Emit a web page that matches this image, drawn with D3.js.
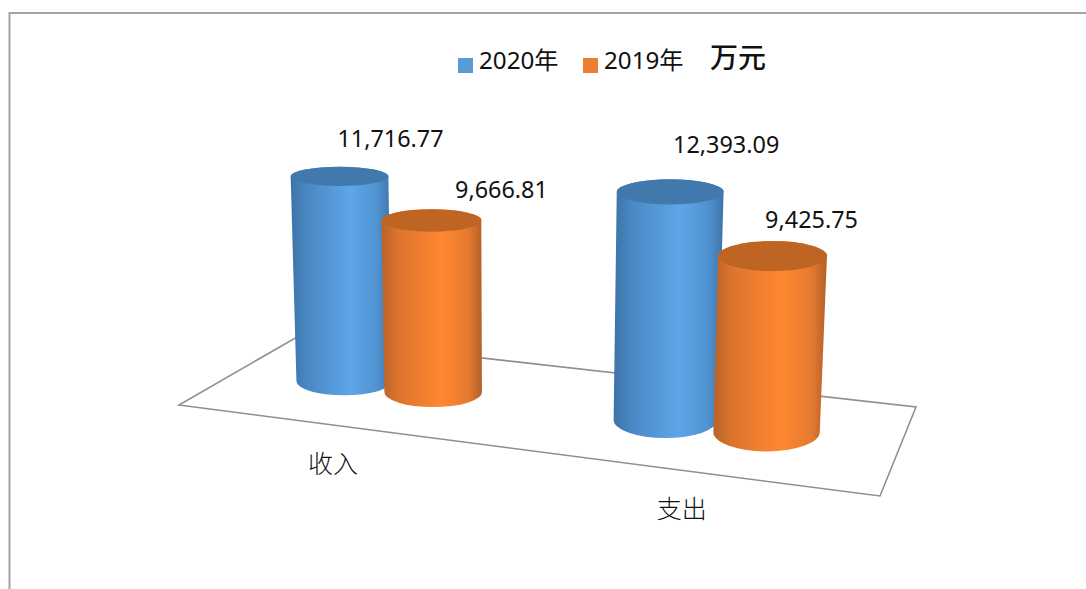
<!DOCTYPE html>
<html>
<head>
<meta charset="utf-8">
<script src="https://cdn.jsdelivr.net/npm/d3@7"></script>
<style>
  html, body { margin: 0; padding: 0; background: #fff; overflow: hidden; }
  text { font-family: "Noto Sans", "Noto Sans CJK SC", sans-serif; fill: #111; }
</style>
</head>
<body>
<div id="chart"></div>
<script>
var categories = ['收入', '支出'];
var seriesNames = ['2020年', '2019年'];
var values2020 = [11716.77, 12393.09];
var values2019 = [9666.81, 9425.75];
var unitLabel = '万元';

var width = 1086, height = 589;

var svg = d3.select('#chart').append('svg')
    .attr('width', width)
    .attr('height', height)
    .style('display', 'block');

// frame, only top and left show in the picture
svg.append('path')
    .attr('d', 'M9.5,589V13H1086')
    .attr('fill', 'none')
    .attr('stroke', '#a3a3a3')
    .attr('stroke-width', 2);

// floor corners on screen: front left, front right, back right, back left
var q = [[179, 405], [880, 496], [916, 407], [297, 337]];

// unit square -> floor quad
var dx1 = q[1][0] - q[2][0], dx2 = q[3][0] - q[2][0], sx = q[0][0] - q[1][0] + q[2][0] - q[3][0];
var dy1 = q[1][1] - q[2][1], dy2 = q[3][1] - q[2][1], sy = q[0][1] - q[1][1] + q[2][1] - q[3][1];
var den = dx1 * dy2 - dx2 * dy1;
var hg = (sx * dy2 - dx2 * sy) / den, hh = (dx1 * sy - sx * dy1) / den;
var ha = q[1][0] - q[0][0] + hg * q[1][0], hb = q[3][0] - q[0][0] + hh * q[3][0];
var hd = q[1][1] - q[0][1] + hg * q[1][1], he = q[3][1] - q[0][1] + hh * q[3][1];

function floorPoint(u, v) {
    var w = hg * u + hh * v + 1;
    return [(ha * u + hb * v + q[0][0]) / w, (hd * u + he * v + q[0][1]) / w];
}

var x0 = d3.scaleBand().domain(categories).range([-0.005, 0.995]).paddingInner(0.42).paddingOuter(0.21);
var x1 = d3.scaleBand().domain(seriesNames).range([0, x0.bandwidth()]);
var y = d3.scaleLinear().domain([0, 14000]).range([0, 246]);

var horizonY = -51, refY = 385, baseRadius = 48;
var vanishX = 510, vanishY = 8000;

function sizeAt(py) { return (py - horizonY) / (refY - horizonY); }
function flatAt(py, f) { return 0.2 + (py - 179) * 0.0005 + (f - 1) * 0.35; }

var defs = svg.append('defs');
var sideColors = [
    ['#3c73a6', '#4a88c4', '#5ea6e8', '#4f92d0', '#3d74a8'],
    ['#b9622a', '#dc742e', '#ff8731', '#e67a2f', '#b5602a']
];
var capColors = ['#4279ad', '#bf6524'];
sideColors.forEach(function (cols, i) {
    var g = defs.append('linearGradient').attr('id', 'side' + i);
    [0, 0.16, 0.6, 0.86, 1].forEach(function (o, k) {
        g.append('stop').attr('offset', o).attr('stop-color', cols[k]);
    });
});

svg.append('path')
    .attr('d', d3.line()(q) + 'Z')
    .attr('fill', '#fff')
    .attr('stroke', '#8f8f8f')
    .attr('stroke-width', 1.6);

var allValues = [values2020, values2019];
var labelNudge = [[[51, -38], [70, -31]], [[56, -47], [39, -36]]];

categories.forEach(function (cat, c) {
    seriesNames.forEach(function (name, s) {
        var value = allValues[s][c];
        var base = floorPoint(x0(cat) + x1(name) + x1.bandwidth() / 2, 0.5);
        var f = sizeAt(base[1]);
        var h = y(value) * Math.pow(f, 0.6);
        var t = h / (vanishY - base[1]);
        var top = [base[0] + (base[0] - vanishX) * t, base[1] - h];
        var rb = baseRadius * f, rt = rb * (1 + t);
        var ryb = rb * flatAt(base[1], f), ryt = rt * flatAt(top[1], f);

        var side = 'M' + (top[0] - rt) + ',' + top[1]
            + 'L' + (base[0] - rb) + ',' + base[1]
            + 'A' + rb + ',' + ryb + ' 0 0 0 ' + (base[0] + rb) + ',' + base[1]
            + 'L' + (top[0] + rt) + ',' + top[1]
            + 'A' + rt + ',' + ryt + ' 0 0 0 ' + (top[0] - rt) + ',' + top[1] + 'Z';

        svg.append('path')
            .attr('d', side)
            .attr('fill', 'url(#side' + s + ')');

        svg.append('ellipse')
            .attr('cx', top[0])
            .attr('cy', top[1])
            .attr('rx', rt)
            .attr('ry', ryt)
            .attr('fill', capColors[s]);

        svg.append('text')
            .attr('x', top[0] + labelNudge[c][s][0])
            .attr('y', top[1] + labelNudge[c][s][1])
            .attr('dy', '0.35em')
            .attr('text-anchor', 'middle')
            .attr('font-size', 23.4)
            .text(d3.format(',.2f')(value));
    });

    var front = floorPoint(x0(cat) + x0.bandwidth() / 2, 0);
    svg.append('text')
        .attr('x', front[0] - 1)
        .attr('y', front[1] + 39)
        .attr('dy', '0.35em')
        .attr('text-anchor', 'middle')
        .attr('font-size', 25)
        .attr('font-weight', 300)
        .text(cat);
});

// legend
var legendColors = ['#5b9bd5', '#ed7d31'];
var legendX = d3.scaleOrdinal().domain(seriesNames).range([458, 583]);
seriesNames.forEach(function (name, i) {
    svg.append('rect')
        .attr('x', legendX(name))
        .attr('y', 58)
        .attr('width', 15)
        .attr('height', 15)
        .attr('fill', legendColors[i]);
    svg.append('text')
        .attr('x', legendX(name) + 21)
        .attr('y', 61)
        .attr('dy', '0.35em')
        .attr('font-size', 24.2)
        .text(name);
});

svg.append('text')
    .attr('x', 710)
    .attr('y', 58)
    .attr('dy', '0.35em')
    .attr('font-size', 28)
    .attr('font-weight', 500)
    .text(unitLabel);
</script>
</body>
</html>
